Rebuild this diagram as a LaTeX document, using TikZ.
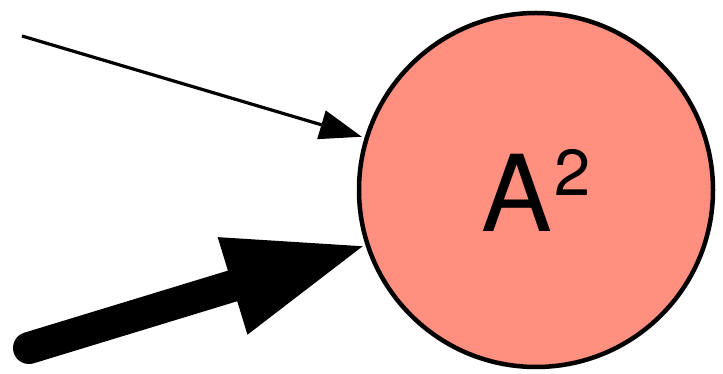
\documentclass[tikz,border=0pt]{standalone}
\usepackage{fontspec}
\setmainfont{TeX Gyre Heros}
\usetikzlibrary{arrows.meta}
\definecolor{salmonfill}{RGB}{255,143,127}
\begin{document}
\begin{tikzpicture}[x=1pt,y=1pt,
  nodecircle/.style={circle, draw=black, line width=4.5pt, fill=salmonfill, minimum size=354pt, inner sep=0pt},
  thinarrow/.style={line width=3.2pt, -{Triangle[length=42pt,width=30pt,line width=0pt]}, shorten >=3pt},
  thickarrow/.style={line width=32pt, line cap=round, -{Triangle[length=136pt,width=102pt,line width=0pt]}, shorten >=3pt}]
\useasboundingbox (0,0) rectangle (723,374);
\node[nodecircle] (A) at (536,184) {\fontsize{106}{106}\selectfont A\kern2pt\raisebox{36pt}{\fontsize{65}{65}\selectfont 2}};
\coordinate (s1) at (22,338);
\coordinate (s2) at (29,26);
\draw[thinarrow] (s1) -- (A.163.1);
\draw[thickarrow] (s2) -- (A.198.2);
\end{tikzpicture}
\end{document}
